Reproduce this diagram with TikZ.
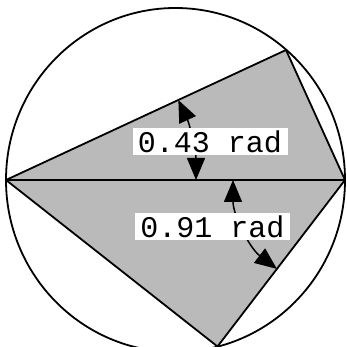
\documentclass[tikz,border=0pt]{standalone}
\usepackage{fontspec}
\setmonofont{Liberation Mono}
\usetikzlibrary{arrows.meta}
\begin{document}
\begin{tikzpicture}[x=1pt,y=1pt,
  edge/.style={line width=1.8pt, line join=round},
  dim/.style={line width=1.5pt, {Triangle[length=22pt,width=18pt]}-{Triangle[length=22pt,width=18pt]}},
  lab/.style={fill=white, inner sep=0pt, minimum width=155pt, minimum height=27pt, font=\ttfamily\fontsize{30}{30}\selectfont}]
\useasboundingbox (0,0) rectangle (346,347);
\coordinate (O) at (175.5,167);
\coordinate (A) at (6,167);
\coordinate (C) at (345,167);
\coordinate (T) at (286,297);
\coordinate (B) at (217.5,0.5);
\fill[black!27] (A) -- (T) -- (C) -- (B) -- cycle;
\draw[edge] (A) -- (T) -- (C) -- (B) -- cycle;
\draw[edge] (A) -- (C);
\draw[line width=1.8pt] (O) ellipse [x radius=169.5, y radius=172];
\draw[dim] ([shift={(0:190)}]A) arc[start angle=0, end angle=24.9, radius=190];
\draw[dim] ([shift={(180:112)}]C) arc[start angle=180, end angle=232.6, radius=112];
\node[lab] (l1) at (210,205.5) {0.43 rad};
\node[lab] (l2) at (212.5,120.5) {0.91 rad};
\end{tikzpicture}
\end{document}
